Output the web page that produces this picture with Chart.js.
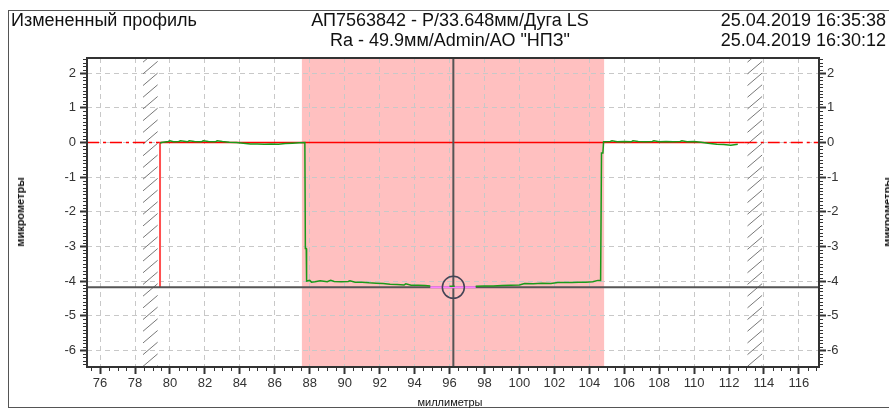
<!DOCTYPE html>
<html>
<head>
<meta charset="utf-8">
<script src="https://cdn.jsdelivr.net/npm/chart.js@4.4.1/dist/chart.umd.min.js"></script>
<style>
  html, body { margin: 0; padding: 0; background: #fff; overflow: hidden; }
  #wrap { position: relative; width: 889px; height: 411px; }
  #c { position: absolute; left: 0; top: 0; }
  .t { position: absolute; font-family: "Liberation Sans", Arial, sans-serif; font-size: 18px; color: #111; white-space: nowrap; line-height: 20px; }
  .ax { position: absolute; font-family: "Liberation Sans", Arial, sans-serif; font-size: 11px; color: #111; white-space: nowrap; }
  #frame { position: absolute; left: 8px; top: 10px; width: 900px; height: 398px; border: 1px solid #555; box-sizing: border-box; }
</style>
</head>
<body>
<div id="wrap">
  <div id="frame"></div>
  <canvas id="c" width="889" height="411"></canvas>
  <div class="t" style="left:11px; top:10px;">Измененный профиль</div>
  <div class="t" style="left:450px; top:10px; transform:translateX(-50%);">АП7563842 - P/33.648мм/Дуга LS</div>
  <div class="t" style="left:450px; top:30px; transform:translateX(-50%);">Ra - 49.9мм/Admin/АО "НПЗ"</div>
  <div class="t" style="right:3px; top:10px; text-align:right;">25.04.2019 16:35:38</div>
  <div class="t" style="right:3px; top:30px; text-align:right;">25.04.2019 16:30:12</div>
  <div class="ax" style="left:20px; top:212px; transform:translate(-50%,-50%) rotate(-90deg); font-weight:bold;">микрометры</div>
  <div class="ax" style="left:887px; top:212px; transform:translate(-50%,-50%) rotate(-90deg); font-weight:bold;">микрометры</div>
  <div class="ax" style="left:450px; top:396px; transform:translateX(-50%);">миллиметры</div>
</div>
<script>
// ---- axis ranges and ticks ----
const xRange = [75.25, 117.15];
const yRange = [-6.48, 2.44];
const xTickValues = [76, 78, 80, 82, 84, 86, 88, 90, 92, 94, 96, 98, 100, 102, 104, 106, 108, 110, 112, 114, 116];
const yTickValues = [2, 1, 0, -1, -2, -3, -4, -5, -6];

// ---- marked zones ----
const selectedZone = [87.55, 104.85];      // pink region
const hatchZones = [[78.4, 79.35], [113.0, 113.95]];

// ---- reference / cursor ----
const refStart = 79.43, refEnd = 112.9, refLevel = 0;
const cursorX = 96.22, cursorY = -4.18;
const magentaX = [94.9, 97.5];

// ---- measured profile (mm, µm) ----
const profileX = [79.45, 79.5, 79.6, 79.9, 80.0, 80.2, 80.5, 80.6, 81.0, 81.1, 81.4, 81.8, 81.9, 82.2, 82.6, 82.7, 83.0, 83.4, 83.8, 84.2, 84.6, 85.0, 85.4, 85.8, 86.2, 86.6, 87.0, 87.4, 87.72,
  87.75, 87.8, 87.82, 88.0, 88.1, 88.3, 88.6, 89.0, 89.2, 89.4, 89.8, 90.2, 90.3, 90.6, 91.0, 91.4, 91.8, 92.2, 92.6, 93.0, 93.4, 93.5, 93.8, 94.2, 94.6, 94.9,
  95.0, 96.0, 96.3, 96.4,
  97.5, 98.0, 98.5, 99.0, 99.5, 100.0, 100.3, 100.8, 101.3, 101.8, 102.2, 102.6, 103.0, 103.4, 103.8, 104.2, 104.5, 104.65,
  104.7, 104.78, 104.82, 105.2, 105.3, 105.6, 106.0, 106.4, 106.5, 106.8, 107.2, 107.6, 107.7, 108.0, 108.4, 108.8, 109.2, 109.3, 109.6, 110.0, 110.4, 110.8, 111.3, 111.7, 112.1, 112.5, 112.9];
const profileY = [-0.03, 0.0, 0.01, 0.03, 0.05, 0.02, 0.03, 0.05, 0.02, 0.05, 0.03, 0.02, 0.05, 0.03, 0.02, 0.05, 0.03, 0.01, 0.0, -0.02, -0.04, -0.04, -0.05, -0.04, -0.05, -0.03, -0.02, -0.01, 0.0,
  -3.06, -3.06, -4.0, -3.98, -4.03, -4.02, -3.99, -4.02, -3.98, -4.01, -4.02, -4.01, -3.99, -4.03, -4.03, -4.05, -4.06, -4.07, -4.09, -4.1, -4.11, -4.08, -4.12, -4.12, -4.13, -4.14,
  null, -4.15, -4.15, null,
  -4.15, -4.14, -4.14, -4.13, -4.12, -4.11, -4.07, -4.08, -4.06, -4.07, -4.04, -4.04, -4.04, -4.03, -4.03, -4.02, -3.98, -3.98,
  -0.3, -0.3, 0.02, 0.03, 0.05, 0.02, 0.03, 0.02, 0.05, 0.03, 0.02, 0.03, 0.05, 0.02, 0.03, 0.02, 0.03, 0.05, 0.02, 0.03, 0.01, -0.02, -0.05, -0.06, -0.08, -0.05];

const pts = (xs, ys) => xs.map((x, i) => ({ x: x, y: ys[i] }));

const zonesPlugin = {
  id: 'zones',
  beforeDraw(chart) {
    const { ctx, chartArea: a, scales: { x } } = chart;
    ctx.save();
    ctx.fillStyle = '#ffc0c0';
    const x0 = x.getPixelForValue(selectedZone[0]), x1 = x.getPixelForValue(selectedZone[1]);
    ctx.fillRect(x0, a.top, x1 - x0, a.bottom - a.top);
    ctx.restore();
  },
  beforeDatasetsDraw(chart) {
    const { ctx, chartArea: a, scales: { x } } = chart;
    ctx.save();
    ctx.strokeStyle = '#777';
    ctx.lineWidth = 1;
    hatchZones.forEach(z => {
      const l = x.getPixelForValue(z[0]), r = x.getPixelForValue(z[1]);
      ctx.save();
      ctx.beginPath();
      ctx.rect(l, a.top, r - l, a.bottom - a.top);
      ctx.clip();
      ctx.beginPath();
      const w = r - l;
      for (let yy = a.top - 20; yy < a.bottom + 30; yy += 11.7) {
        ctx.moveTo(l + 1, yy + w * 0.75);
        ctx.lineTo(r - 1, yy);
      }
      ctx.stroke();
      ctx.restore();
    });
    ctx.restore();
  },
  afterDraw(chart) {
    const { ctx, chartArea: a, scales: { x, y } } = chart;
    ctx.save();
    ctx.strokeStyle = '#333';
    ctx.lineWidth = 1;
    ctx.beginPath();
    for (let v = 75.5; v <= 117; v += 0.5) {
      if (Math.abs(v - Math.round(v / 2) * 2) < 1e-6) continue;
      const px = Math.round(x.getPixelForValue(v)) + 0.5;
      ctx.moveTo(px, a.bottom); ctx.lineTo(px, a.bottom + 4);
    }
    for (let k = -64; k <= 24; k++) {
      if (k % 10 === 0) continue;
      const py = Math.round(y.getPixelForValue(k / 10)) + 0.5;
      ctx.moveTo(a.left, py); ctx.lineTo(a.left - 4, py);
      ctx.moveTo(a.right, py); ctx.lineTo(a.right + 4, py);
    }
    ctx.stroke();
    ctx.lineWidth = 2;
    ctx.strokeStyle = '#333';
    ctx.strokeRect(a.left, a.top, a.right - a.left, a.bottom - a.top);
    ctx.restore();
  }
};

const line = (data, color, width, order, dash) => ({
  data, borderColor: color, backgroundColor: color, borderWidth: width, showLine: true,
  pointRadius: 0, fill: false, tension: 0, spanGaps: false, order, borderDash: dash || []
});

const tickFont = { family: '"Liberation Sans", Arial, sans-serif', size: 13 };
const gridOpts = { color: '#c8c8c8', lineWidth: 1, tickLength: 7, tickColor: '#333', tickWidth: 2, tickBorderDash: [] };
const borderOpts = { display: false, dash: [5, 4] };

new Chart(document.getElementById('c'), {
  type: 'scatter',
  data: {
    datasets: [
      line(pts(profileX, profileY), '#1a9a1a', 1.5, 1),
      line(pts(magentaX, [cursorY, cursorY]), '#ff80ff', 2, 2),
      line(pts([xRange[0], xRange[1]], [cursorY, cursorY]), '#555', 2, 3),
      line(pts([cursorX, cursorX], [yRange[0], yRange[1]]), '#555', 2, 3),
      { data: [{ x: cursorX, y: cursorY }], pointRadius: 11, pointStyle: 'circle', borderColor: '#445', borderWidth: 1.5, backgroundColor: 'rgba(0,0,0,0)', showLine: false, order: 0 },
      line(pts([refStart, refEnd], [refLevel, refLevel]), '#ff0000', 1.5, 4),
      line(pts([refStart, refStart], [refLevel, cursorY]), '#ff5050', 2, 4),
      line(pts([xRange[0], refStart], [refLevel, refLevel]), '#ff0000', 1.5, 5, [12, 4, 3, 4]),
      line(pts([refEnd, xRange[1]], [refLevel, refLevel]), '#ff0000', 1.5, 5, [12, 4, 3, 4])
    ]
  },
  options: {
    responsive: false,
    devicePixelRatio: 1,
    animation: false,
    layout: { padding: { left: 0, top: 58, right: 0, bottom: 0 } },
    plugins: { legend: { display: false }, tooltip: { enabled: false } },
    scales: {
      x: {
        type: 'linear', min: xRange[0], max: xRange[1],
        afterBuildTicks: s => { s.ticks = xTickValues.map(v => ({ value: v })); },
        afterFit: s => { s.height = 44; },
        grid: gridOpts,
        border: borderOpts,
        ticks: { font: tickFont, color: '#333', padding: 2, maxRotation: 0, autoSkip: false }
      },
      y: {
        type: 'linear', position: 'left', min: yRange[0], max: yRange[1],
        afterBuildTicks: s => { s.ticks = yTickValues.map(v => ({ value: v })); },
        afterFit: s => { s.width = 87; },
        grid: gridOpts,
        border: borderOpts,
        ticks: { font: tickFont, color: '#333', padding: 4, autoSkip: false }
      },
      y2: {
        type: 'linear', position: 'right', min: yRange[0], max: yRange[1],
        afterBuildTicks: s => { s.ticks = yTickValues.map(v => ({ value: v })); },
        afterFit: s => { s.width = 70; },
        grid: { drawOnChartArea: false, tickLength: 7, tickColor: '#333', tickWidth: 2, tickBorderDash: [] },
        border: { display: false },
        ticks: { font: tickFont, color: '#333', padding: 1, autoSkip: false }
      }
    }
  },
  plugins: [zonesPlugin]
});
</script>
</body>
</html>
